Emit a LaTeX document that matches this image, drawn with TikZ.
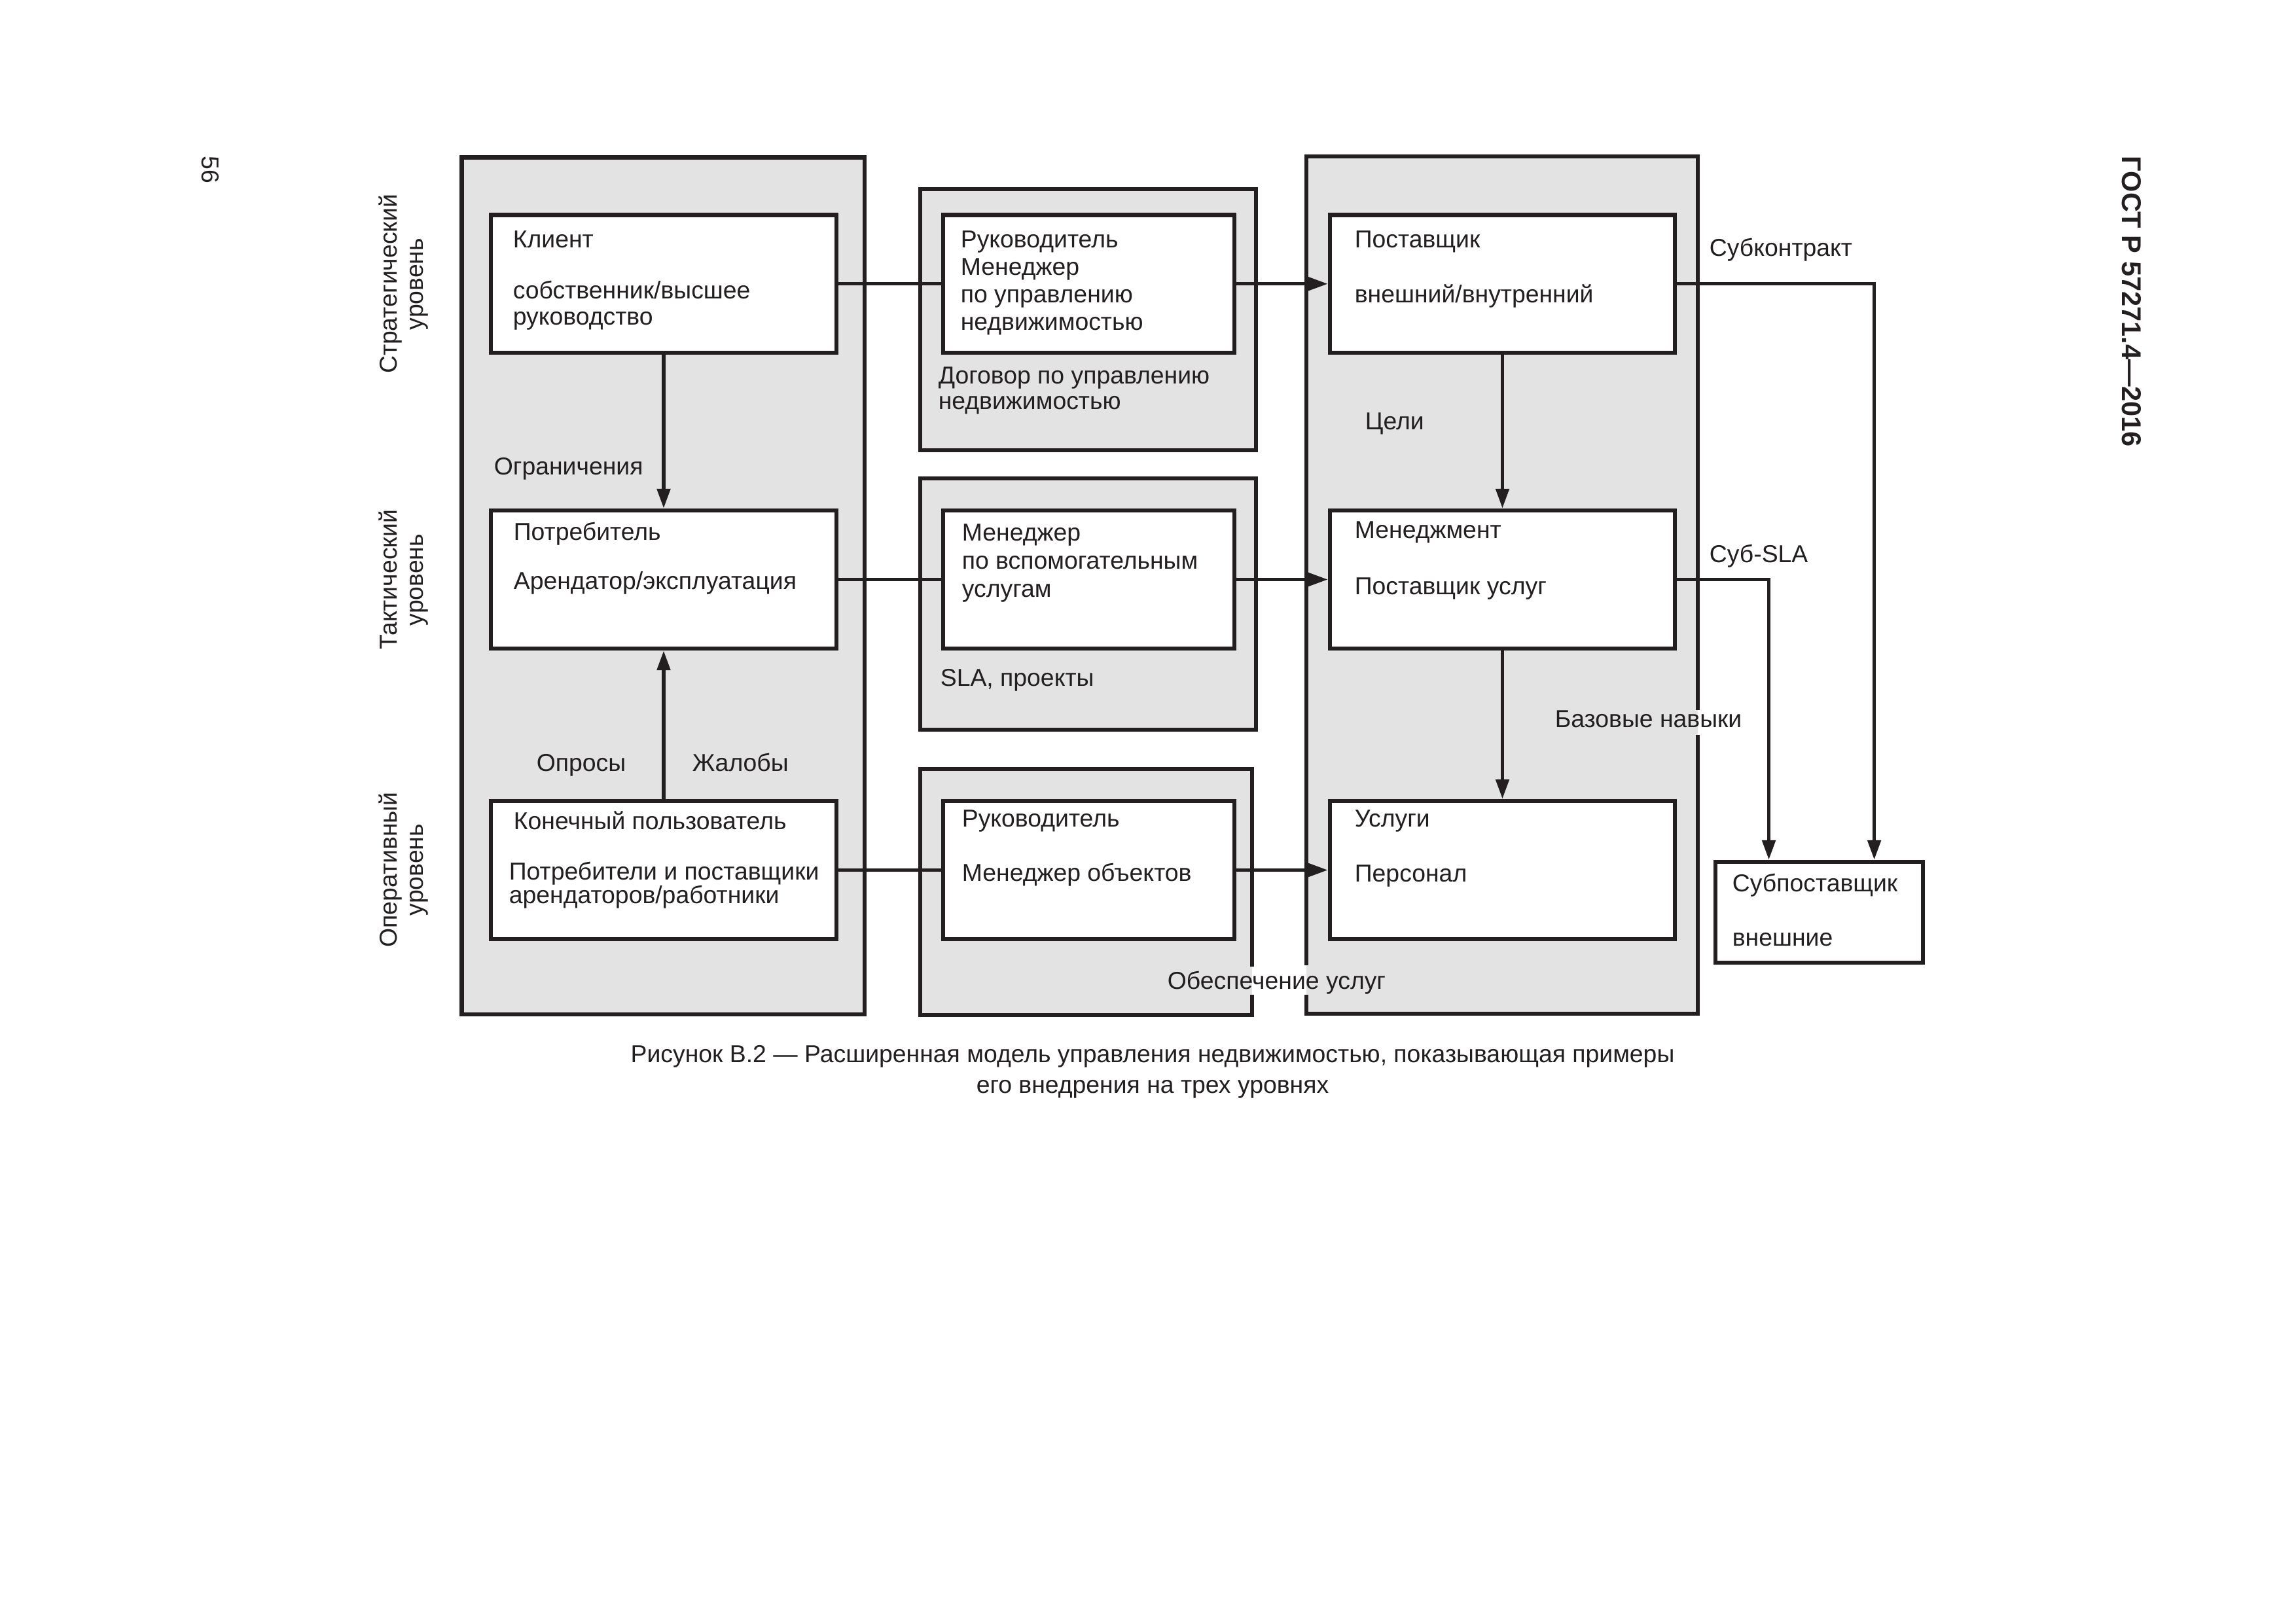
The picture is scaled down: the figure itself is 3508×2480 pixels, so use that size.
\documentclass[tikz,border=0pt]{standalone}
\usepackage{fontspec}
\setmainfont{Liberation Sans}
\usetikzlibrary{arrows.meta,fit,calc}
\definecolor{ink}{RGB}{35,31,32}
\definecolor{panelgray}{RGB}{227,227,227}
\begin{document}
\begin{tikzpicture}[x=0.0846636mm, y=-0.0846636mm,
  panelfill/.style={fill=panelgray, draw=none, inner sep=0pt, outer sep=0pt},
  panel/.style={fill=panelgray, draw=ink, line width=1.55pt, inner sep=0pt},
  box/.style={fill=white, draw=ink, line width=1.55pt, inner sep=0pt},
  rim/.style={draw=ink, line width=1.55pt},
  conn/.style={draw=ink, line width=1.28pt},
  arr/.style={conn, -{Triangle[length=7.2pt, width=4.8pt]}},
  lbl/.style={anchor=base west, inner sep=0pt, text=ink, font=\fontsize{9pt}{10pt}\selectfont},
  lvl/.style={anchor=base, rotate=90, inner sep=0pt, text=ink, font=\fontsize{9pt}{10pt}\selectfont},
  captext/.style={anchor=base, inner sep=0pt, text=ink, font=\fontsize{9pt}{10pt}\selectfont}
]
\useasboundingbox[fill=white] (0,0) rectangle (3508,2480);

% ---- containers ----
\node[panel, fit={(705.5,240.5) (1321,1550)}] (leftpanel) {};
\node[panel, fit={(1406,289) (1919,688)}] (midpanelA) {};
\node[panel, fit={(1406,731) (1919,1115)}] (midpanelB) {};
\node[panelfill, fit={(1406,1175) (1913,1551)}] (midpanelC) {};
\draw[rim] (1913,1520) -- (1913,1551) -- (1406,1551) -- (1406,1175) -- (1913,1175) -- (1913,1477);
\node[panelfill, fit={(1996,239) (2594,1549)}] (rightpanel) {};
\draw[rim] (1996,1520) -- (1996,1549) -- (2594,1549) -- (2594,1123);
\draw[rim] (2594,1085) -- (2594,239) -- (1996,239) -- (1996,1475);

% ---- boxes ----
\node[box, fit={(750,328.5) (1278,539)}] (klient) {};
\node[box, fit={(750,780) (1278,991)}] (potr) {};
\node[box, fit={(750,1224) (1278,1435)}] (konech) {};
\node[box, fit={(1441,328.5) (1886,539)}] (rukA) {};
\node[box, fit={(1441,780) (1886,991)}] (menA) {};
\node[box, fit={(1441,1224) (1886,1435)}] (rukB) {};
\node[box, fit={(2032,328.5) (2559,539)}] (post) {};
\node[box, fit={(2032,780) (2559,991)}] (mgmt) {};
\node[box, fit={(2032,1224) (2559,1435)}] (usl) {};
\node[box, fit={(2621,1317) (2938,1471)}] (sub) {};

% ---- connectors ----
\draw[conn] (klient.east) -- (rukA.west);
\draw[arr] (rukA.east) -- (post.west);
\draw[conn] (potr.east) -- (menA.west);
\draw[arr] (menA.east) -- (mgmt.west);
\draw[conn] (konech.east) -- (rukB.west);
\draw[arr] (rukB.east) -- (usl.west);
\draw[arr] (klient.south) -- (potr.north);
\draw[arr] (konech.north) -- (potr.south);
\draw[arr] (post.south) -- (mgmt.north);
\draw[arr] (mgmt.south) -- (usl.north);
\draw[arr] (post.east) -| ($(sub.north west)!0.76!(sub.north east)$);
\draw[arr] (mgmt.east) -| ($(sub.north west)!0.262!(sub.north east)$);

% ---- texts ----
\node[lbl] (t1) at (783,379) {Клиент};
\node[lbl] (t2) at (783,457) {собственник/высшее};
\node[lbl] (t3) at (783,497) {руководство};
\node[lbl] (t4) at (1467,379) {Руководитель};
\node[lbl] (t5) at (1467,421) {Менеджер};
\node[lbl] (t6) at (1467,463) {по управлению};
\node[lbl] (t7) at (1467,505) {недвижимостью};
\node[lbl] (t8) at (1433,587) {Договор по управлению};
\node[lbl] (t9) at (1433,626) {недвижимостью};
\node[lbl] (t10) at (2069,379) {Поставщик};
\node[lbl] (t11) at (2069,463) {внешний/внутренний};
\node[lbl] (t12) at (2611,392) {Субконтракт};
\node[lbl] (t13) at (2085,657) {Цели};
\node[lbl] (t14) at (754,726) {Ограничения};
\node[lbl] (t15) at (784,826) {Потребитель};
\node[lbl] (t16) at (784,901) {Арендатор/эксплуатация};
\node[lbl] (t17) at (1469,827) {Менеджер};
\node[lbl] (t18) at (1469,870) {по вспомогательным};
\node[lbl] (t19) at (1469,913) {услугам};
\node[lbl] (t20) at (1436,1049) {SLA, проекты};
\node[lbl] (t21) at (2069,823) {Менеджмент};
\node[lbl] (t22) at (2069,909) {Поставщик услуг};
\node[lbl] (t23) at (2611,860) {Суб-SLA};
\node[lbl] (t24) at (2375,1112) {Базовые навыки};
\node[lbl] (t25) at (819,1179) {Опросы};
\node[lbl] (t26) at (1057,1179) {Жалобы};
\node[lbl] (t27) at (784,1268) {Конечный пользователь};
\node[lbl] (t28) at (777,1344) {Потребители и поставщики};
\node[lbl] (t29) at (777,1380) {арендаторов/работники};
\node[lbl] (t30) at (1469,1264) {Руководитель};
\node[lbl] (t31) at (1469,1346) {Менеджер объектов};
\node[lbl] (t32) at (2069,1264) {Услуги};
\node[lbl] (t33) at (2069,1347) {Персонал};
\node[lbl] (t34) at (2646,1362) {Субпоставщик};
\node[lbl] (t35) at (2646,1445) {внешние};
\node[lbl] (t36) at (1783,1511) {Обеспечение услуг};

% ---- level labels ----
\node[lvl] (l1a) at (606,434) {Стратегический};
\node[lvl] (l1b) at (646,434) {уровень};
\node[lvl] (l2a) at (606,886) {Тактический};
\node[lvl] (l2b) at (646,886) {уровень};
\node[lvl] (l3a) at (606,1329) {Оперативный};
\node[lvl] (l3b) at (646,1329) {уровень};

% ---- page furniture ----
\node[anchor=base west, rotate=-90, inner sep=0pt, text=ink, font=\fontsize{9pt}{10pt}\selectfont] (pagenum) at (308,238) {56};
\node[anchor=base west, rotate=-90, inner sep=0pt, text=ink, font=\fontsize{10pt}{12pt}\selectfont\bfseries] (gost) at (3242,238) {ГОСТ Р 57271.4—2016};

% ---- caption ----
\node[captext] (c1) at (1761,1623) {Рисунок В.2 — Расширенная модель управления недвижимостью, показывающая примеры};
\node[captext] (c2) at (1761,1670) {его внедрения на трех уровнях};
\end{tikzpicture}
\end{document}
